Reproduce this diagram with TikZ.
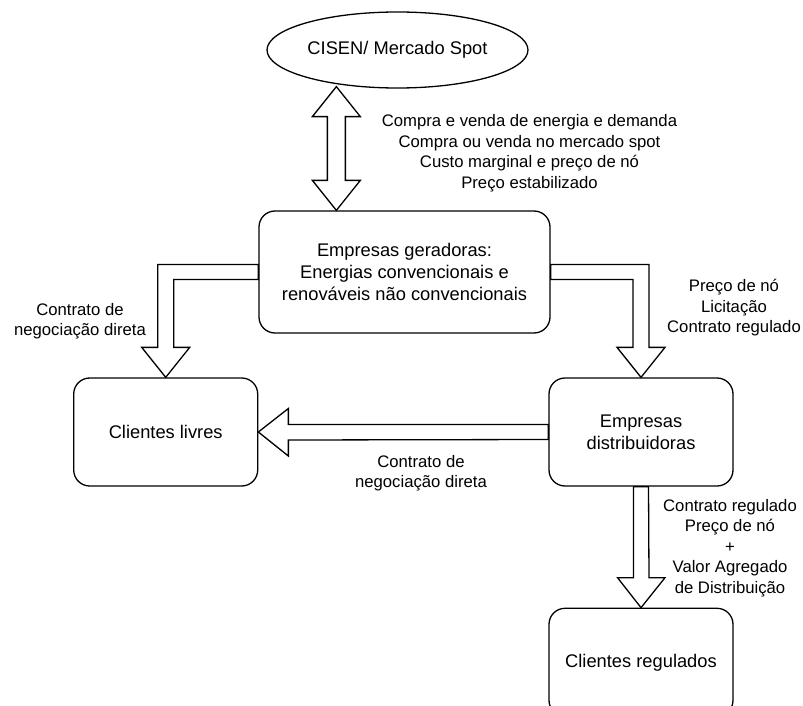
\documentclass[tikz,border=0pt]{standalone}
\usepackage{fontspec}
\setmainfont{Liberation Sans}
\usetikzlibrary{positioning, calc, shapes.geometric}

\begin{document}
\begin{tikzpicture}[x=1pt, y=-1pt, line width=1.3pt,
          box/.style={draw, rounded corners=16pt, align=center, inner sep=0pt,
                      font=\fontsize{18.3}{22}\selectfont},
          oval/.style={draw, ellipse, inner sep=0pt, minimum width=261pt,
                       minimum height=76pt, font=\fontsize{18.3}{22}\selectfont},
          lbl/.style={align=center, inner sep=0pt, font=\fontsize{16.7}{20.5}\selectfont},
          blk/.style={draw, fill=white, line join=miter}]
  \useasboundingbox (0,0) rectangle (803,706);

  % nodes
  \node[oval] (cisen) at (397.5,50) {CISEN/ Mercado Spot};
  \node[box, minimum width=291pt, minimum height=122pt] (gen) at (404.5,272)
      {Empresas geradoras:\\Energias convencionais e\\renováveis não convencionais};
  \node[box, minimum width=184pt, minimum height=108pt] (dist) at (641,432)
      {Empresas\\distribuidoras};
  \node[box, minimum width=184pt, minimum height=108pt, left=290pt of dist] (livres)
      {Clientes livres};
  \node[box, minimum width=184pt, minimum height=108pt, below=121pt of dist] (reg)
      {Clientes regulados};

  % block arrows
  \coordinate (dn) at ($(gen.north west)+(78,0)$);
  \coordinate (up) at ($(dn |- cisen.south)+(0,-2)$);
  \draw[blk] (dn) -- ++(-24,-30) -- ++(15,0) |- ($(up)+(-9,30)$) -- ++(-15,0)
      -- (up) -- ++(24,30) -- ++(-15,0) |- ($(dn)+(9,-30)$) -- ++(15,0) -- cycle;
  \draw[blk] ($(gen.west)+(0,-7.5)$) -| ($(livres.north)+(-8,-30)$) -- ++(-16,0)
      -- (livres.north) -- ++(24,-30) -- ++(-16,0) |- ($(gen.west)+(0,7.5)$) -- cycle;
  \draw[blk] ($(gen.east)+(0,-7.5)$) -| ($(dist.north)+(8,-30)$) -- ++(16,0)
      -- (dist.north) -- ++(-24,-30) -- ++(16,0) |- ($(gen.east)+(0,7.5)$) -- cycle;
  \draw[blk] ($(dist.west)+(0,-7.5)$) -- ($(livres.east)+(30,-7.5)$) -- ++(0,-16)
      -- (livres.east) -- ++(30,24) -- ++(0,-16) -- ($(dist.west)+(0,7.5)$) -- cycle;
  \draw[blk] ($(dist.south)+(-7.5,0)$) -- ($(reg.north)+(-7.5,-30)$) -- ++(-16,0)
      -- (reg.north) -- ++(24,-30) -- ++(-16,0) -- ($(dist.south)+(7.5,0)$) -- cycle;

  % labels
  \node[lbl] (mspot) at (529.5,153) {Compra e venda de energia e demanda\\Compra ou venda no mercado spot\\Custo marginal e preço de nó\\Preço estabilizado};
  \node[lbl] (regl) at (734,308) {Preço de nó\\Licitação\\Contrato regulado};
  \node[lbl] (livl) at (80,321) {Contrato de\\negociação direta};
  \node[lbl] (distl) at (421,473) {Contrato de\\negociação direta};
  \node[lbl] (vadl) at (730,548) {Contrato regulado\\Preço de nó\\+\\Valor Agregado\\de Distribuição};
\end{tikzpicture}
\end{document}
